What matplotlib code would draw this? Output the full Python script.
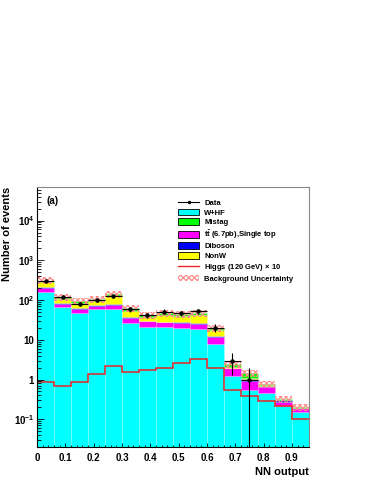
import numpy as np
import matplotlib
matplotlib.use("Agg")
import matplotlib.pyplot as plt
from matplotlib.patches import Patch
from matplotlib.lines import Line2D
from matplotlib.ticker import FixedLocator, LogLocator, NullFormatter, FixedFormatter

plt.rcParams.update({
    'font.family': 'Liberation Sans',
    'font.weight': 'bold',
    'mathtext.fontset': 'custom',
    'mathtext.rm': 'Liberation Sans:bold',
    'mathtext.it': 'Liberation Sans:bold',
    'mathtext.bf': 'Liberation Sans:bold',
    'hatch.linewidth': 0.9,
})

# NN output bins (16 bins of 0.06)
bin_edges = np.linspace(0.0, 0.96, 17)

# background components per bin
whf     = [158, 67, 48, 59, 61, 26, 21.5, 21.5, 19.6, 18.5, 7.8, 1.2, 0.56, 0.46, 0.21, 0.15]
top     = [47, 13, 12, 13, 15, 10, 7.5, 6, 6.5, 6.5, 3.8, 0.72, 0.34, 0.2, 0.06, 0.04]
diboson = [7, 2, 2, 2, 2, 2, 1.5, 1.2, 1.2, 1.2, 0.6, 0.05, 0.12, 0.03, 0.03, 0.003]
nonw    = [68, 26, 22, 22, 48, 15, 7, 13, 12.5, 15.5, 5, 0.05, 0.08, 0.02, 0.005, 0.002]
mistag  = [30, 13, 9, 10, 12, 9, 4, 6, 5, 6, 2.3, 0.45, 0.37, 0.05, 0.01, 0.005]

data   = [303, 120, 81, 98, 124, 58, 42, 51, 46, 53, 20, 3, 1, 0, 0, 0]
higgs  = [0.87, 0.70, 0.87, 1.41, 2.2, 1.56, 1.75, 1.95, 2.6, 3.3, 1.96, 0.55, 0.39, 0.29, 0.21, 0.10]
bkg_unc = 0.2  # relative

fig = plt.figure(figsize=(3.74, 4.84), dpi=100)
ax = fig.add_axes([0.099, 0.0764, 0.727, 0.5372])

x0 = bin_edges[:-1]
w = np.diff(bin_edges)
centers = x0 + w / 2

comps = [(whf, '#00ffff'), (top, '#ff00ff'), (diboson, '#0000ff'),
         (nonw, '#ffff00'), (mistag, '#00ff00')]
bottom = np.zeros(len(x0))
for vals, col in comps:
    vals = np.array(vals, dtype=float)
    ax.bar(x0, vals, width=w, bottom=bottom, align='edge', color=col,
           edgecolor=(1, 1, 1, 0.3), linewidth=0.4)
    bottom = bottom + vals
total = bottom

# background uncertainty band
ax.bar(x0, 2 * bkg_unc * total, width=w, bottom=(1 - bkg_unc) * total,
       align='edge', fill=False, hatch='xxxxxx', edgecolor='#ff8c8c', linewidth=0)

# higgs x10
ax.stairs(higgs, bin_edges, color='#ee2222', lw=1.1, baseline=None)

# data
data = np.array(data, dtype=float)
m = data > 0
err = np.sqrt(data[m])
lo = np.minimum(err, data[m] - 1e-4)
ax.errorbar(centers[m], data[m], xerr=w[m] / 2, yerr=[lo, err], fmt='o', ms=2.2,
            color='k', lw=0.8, capsize=0)

ax.set_yscale('log')
ax.set_xlim(0, 0.96)
ax.set_ylim(0.02, 7e4)

ax.xaxis.set_major_locator(FixedLocator(np.arange(0, 0.95, 0.1)))
ax.xaxis.set_minor_locator(FixedLocator(np.arange(0, 0.961, 0.02)))
ax.set_xticklabels(['0'] + ['%.1f' % v for v in np.arange(0.1, 0.95, 0.1)])
ax.yaxis.set_major_locator(FixedLocator([0.1, 1, 10, 100, 1000, 10000]))
ax.yaxis.set_major_formatter(FixedFormatter([r'$10^{-1}$', '1', '10', r'$10^{2}$',
                                             r'$10^{3}$', r'$10^{4}$']))
ax.yaxis.set_minor_locator(LogLocator(base=10, subs=np.arange(2, 10), numticks=20))
ax.yaxis.set_minor_formatter(NullFormatter())

ax.tick_params(axis='both', which='both', direction='in', top=False, right=False,
               labelsize=7, width=0.6)
ax.tick_params(axis='x', which='major', length=3, pad=4)
ax.tick_params(axis='x', which='minor', length=1.8)
ax.tick_params(axis='y', which='major', length=5, pad=2)
ax.tick_params(axis='y', which='minor', length=2.8)

for s in ['top', 'right']:
    ax.spines[s].set_color('#888888')
    ax.spines[s].set_linewidth(0.8)
for s in ['left', 'bottom']:
    ax.spines[s].set_linewidth(0.8)

ax.set_xlabel('NN output', fontsize=8, fontweight='bold', loc='right', labelpad=3)
ax.set_ylabel('Number of events', fontsize=8, fontweight='bold', loc='top', labelpad=1)

ax.text(0.035, 0.945, '(a)', transform=ax.transAxes, fontsize=7, fontweight='bold',
        va='center', ha='left')

handles = [
    Line2D([], [], color='k', marker='o', ms=1.5, lw=0.8),
    Patch(facecolor='#00ffff', edgecolor='k', lw=0.6),
    Patch(facecolor='#00ff00', edgecolor='k', lw=0.6),
    Patch(facecolor='#ff00ff', edgecolor='k', lw=0.6),
    Patch(facecolor='#0000ff', edgecolor='k', lw=0.6),
    Patch(facecolor='#ffff00', edgecolor='k', lw=0.6),
    Line2D([], [], color='#ee2222', lw=1.0),
    Patch(facecolor='none', edgecolor='#ff8c8c', hatch='xxxxxx', lw=0),
]
labels = ['Data', 'W+HF', 'Mistag', r'$t\bar{t}$ (6.7pb),Single top', 'Diboson',
          'NonW', r'Higgs (120 GeV) $\times$ 10', 'Background Uncertainty']
ax.legend(handles, labels, loc='upper left', bbox_to_anchor=(0.5, 0.975),
          frameon=False, fontsize=5.5, handlelength=2.7, handleheight=1.0,
          handletextpad=0.7, labelspacing=0.22, borderpad=0.2)

fig.savefig('out.png', dpi=100)
